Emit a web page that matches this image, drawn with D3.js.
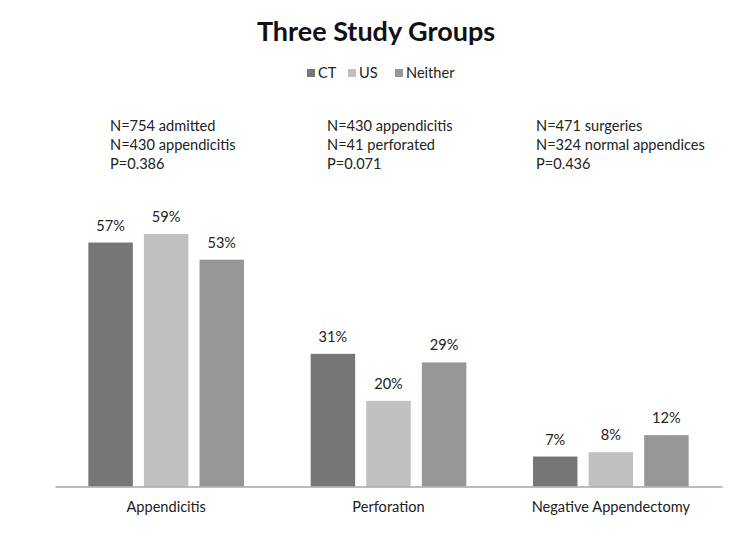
<!DOCTYPE html>
<html><head><meta charset="utf-8">
<script src="https://cdn.jsdelivr.net/npm/d3@7"></script>
<style>body{margin:0;background:#fff}</style>
</head><body>
<svg id="c" width="752" height="538"></svg>
<script>
const categories = ["Appendicitis", "Perforation", "Negative Appendectomy"];
const seriesNames = ["CT", "US", "Neither"];
const ctValues = [57, 31, 7];
const usValues = [59, 20, 8];
const neitherValues = [53, 29, 12];
const notes = [
  ["N=754 admitted", "N=430 appendicitis", "P=0.386"],
  ["N=430 appendicitis", "N=41 perforated", "P=0.071"],
  ["N=471 surgeries", "N=324 normal appendices", "P=0.436"]
];
const colors = ["#767676", "#c0c0c0", "#969696"];

const font = "Lato, 'Open Sans', sans-serif";
const fs = 14.6;
const svg = d3.select("#c").style("font-family", font);
const left = 55, right = 722, base = 486.5;

const x0 = d3.scaleBand().domain(categories).range([left, right]).padding(0);
const gw = x0.bandwidth() * 0.7;
const x1 = d3.scaleBand().domain(seriesNames).range([0, gw]).paddingInner(0.2);
const y = d3.scaleLinear().domain([0, 60]).range([base, base - 4.28 * 60]);
const color = d3.scaleOrdinal().domain(seriesNames).range(colors);

const data = categories.map((c, i) => ({
  cat: c,
  vals: [ctValues[i], usValues[i], neitherValues[i]].map((v, j) => ({s: seriesNames[j], v}))
}));

// title
svg.append("text").attr("x", 376).attr("y", 41).attr("text-anchor", "middle")
  .attr("font-size", 27).attr("font-weight", "bold").attr("fill", "#111").text("Three Study Groups");

// legend
const legItems = [{s:"CT", x:307}, {s:"US", x:348}, {s:"Neither", x:395}];
legItems.forEach(d => {
  svg.append("rect").attr("x", d.x).attr("y", 69).attr("width", 8).attr("height", 8).attr("fill", color(d.s));
  svg.append("text").attr("x", d.x + 11).attr("y", 78).attr("font-size", fs).attr("fill", "#222").text(d.s);
});

// notes
const noteX = [110, 327, 536];
notes.forEach((lines, i) => {
  lines.forEach((t, k) => {
    svg.append("text").attr("x", noteX[i]).attr("y", 131 + k * 19).attr("font-size", fs)
      .attr("fill", "#222").text(t);
  });
});

// bars
const g = svg.append("g").selectAll("g").data(data).join("g")
  .attr("transform", d => `translate(${x0(d.cat) + (x0.bandwidth() - gw) / 2},0)`);
g.selectAll("rect").data(d => d.vals).join("rect")
  .attr("x", d => x1(d.s)).attr("width", x1.bandwidth())
  .attr("y", d => y(d.v)).attr("height", d => base - y(d.v))
  .attr("fill", d => color(d.s));
g.selectAll("text").data(d => d.vals).join("text")
  .attr("x", d => x1(d.s) + x1.bandwidth() / 2).attr("y", d => y(d.v) - 12)
  .attr("text-anchor", "middle").attr("font-size", fs).attr("fill", "#222")
  .text(d => d.v + "%");

// axis
const ax = svg.append("g").attr("transform", `translate(0,${base})`)
  .call(d3.axisBottom(x0).tickSize(0).tickPadding(15));
ax.select(".domain").attr("stroke", "#a6a6a6").attr("stroke-width", 1.5);
ax.selectAll("text").attr("font-size", fs).attr("fill", "#222").attr("font-family", font);
</script>
</body></html>
